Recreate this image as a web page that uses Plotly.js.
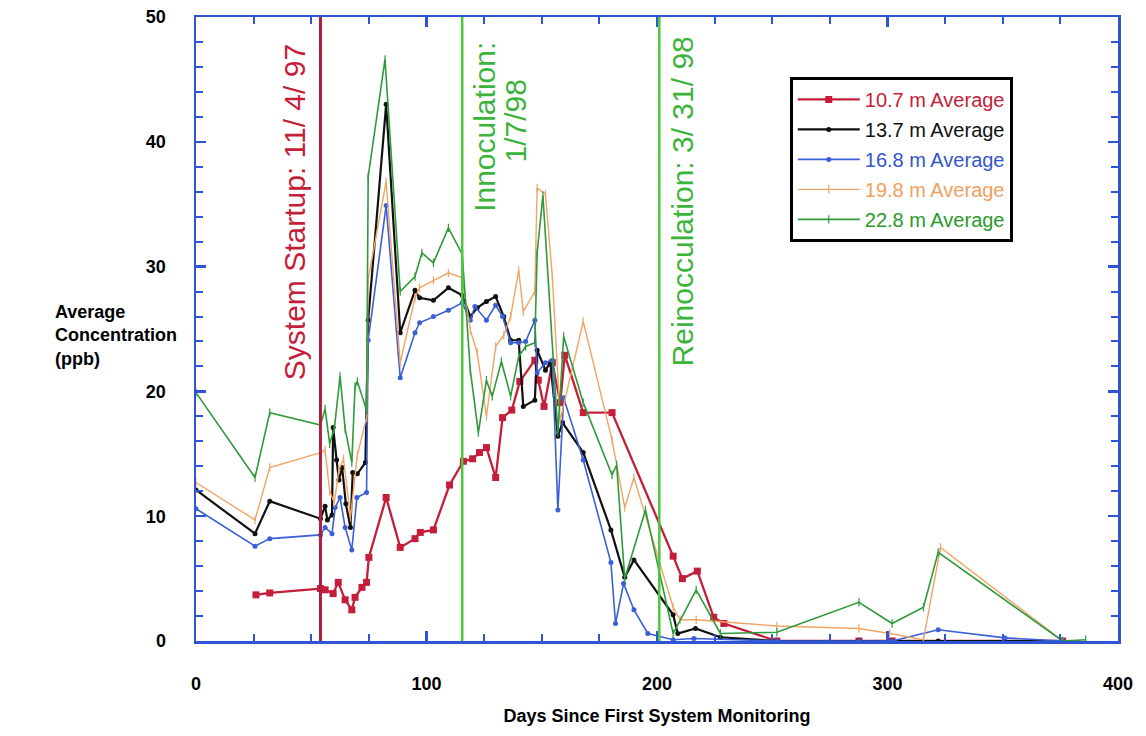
<!DOCTYPE html>
<html>
<head>
<meta charset="utf-8">
<script src="https://cdn.plot.ly/plotly-3.0.1.min.js"></script>
<style>html,body{margin:0;padding:0;background:#fff;}#chart{width:1146px;height:736px;}</style>
</head>
<body>
<div id="chart"></div>
<script>
// ---- Data ----
const seriesNames = ["10.7 m Average", "13.7 m Average", "16.8 m Average", "19.8 m Average", "22.8 m Average"];

const days107 = [26, 32, 54, 56, 59.5, 61.7, 64.7, 67.6, 69, 72, 74, 75, 82.5, 88.6, 95, 97.3, 103, 110, 116, 120, 123, 126, 130, 133, 137, 140.5, 147, 148.5, 151, 154.6, 158, 160, 168, 180.5, 207, 211, 217.5, 224.6, 229, 252, 287.6, 302, 376];
const conc107 = [3.7, 3.85, 4.2, 4.1, 3.8, 4.7, 3.3, 2.5, 3.5, 4.3, 4.7, 6.7, 11.5, 7.5, 8.2, 8.7, 8.9, 12.5, 14.4, 14.6, 15.1, 15.5, 13.1, 17.9, 18.5, 20.8, 22.5, 20.9, 18.8, 22.3, 19.1, 22.9, 18.3, 18.3, 6.8, 5.0, 5.6, 1.9, 1.4, 0, 0, 0, 0];

const days137 = [0, 25.6, 32, 54, 56, 57, 59, 59.5, 61, 62, 63.4, 65, 67, 68, 70, 73.5, 74.7, 82.5, 88.6, 95, 97, 103, 109.5, 115.5, 119, 122, 126, 130, 133.5, 136.5, 140, 142, 147, 148, 151.6, 153.7, 157, 159, 168, 180, 186, 190, 207, 209, 216.7, 227.5, 252, 287.6, 302, 322, 376];
const conc137 = [12.1, 8.6, 11.2, 9.8, 10.8, 9.7, 10.1, 17.1, 14.5, 12.9, 13.9, 11.0, 9.1, 13.5, 13.4, 14.3, 25.7, 43.0, 24.7, 28.1, 27.5, 27.3, 28.3, 27.7, 26.0, 26.7, 27.2, 27.6, 26.0, 24.1, 24.1, 18.8, 19.3, 23.3, 21.7, 22.3, 16.4, 17.5, 15.1, 8.9, 5.1, 6.5, 2.1, 0.6, 1.0, 0.3, 0, 0, 0, 0, 0];

const days168 = [0, 25.6, 32, 54, 56, 59, 60.4, 62.5, 64.7, 67.6, 69.8, 74, 74.7, 82.5, 88.6, 95, 97, 103, 109.5, 115.5, 119, 121, 126, 130, 133, 136.5, 140, 143, 147, 148, 151.6, 154.6, 157, 159.5, 168, 180, 182, 185.5, 190, 196, 207, 216, 252, 287.6, 302, 322, 351, 376];
const conc168 = [10.6, 7.6, 8.2, 8.5, 9.1, 8.6, 10.7, 11.5, 9.1, 7.3, 11.5, 11.9, 24.1, 34.9, 21.1, 24.7, 25.5, 26.0, 26.5, 27.1, 25.7, 26.8, 25.7, 26.9, 26.0, 23.9, 23.9, 24.0, 25.7, 21.5, 22.3, 22.5, 10.5, 19.5, 14.5, 6.3, 1.4, 4.6, 2.5, 0.6, 0.1, 0.2, 0, 0, 0, 0.9, 0.25, 0];

const days198 = [0, 25.6, 32, 54, 56, 58, 60, 62, 64, 67, 70, 74, 74.7, 82.5, 88.6, 95, 97, 103, 109.5, 115.5, 119, 122, 126, 130, 133.5, 136.5, 140, 142, 147, 148, 151.6, 154.6, 158, 168, 180.5, 186, 190, 207, 210, 217, 252, 287.6, 301, 315.6, 323, 376];
const conc198 = [12.7, 9.7, 13.9, 15.1, 15.3, 12.0, 11.1, 13.7, 14.6, 9.9, 14.9, 17.9, 29.0, 36.8, 22.3, 27.5, 28.3, 28.9, 29.5, 29.1, 24.9, 23.1, 18.0, 23.6, 24.5, 26.0, 29.7, 26.4, 28.0, 36.3, 35.8, 29.2, 17.7, 25.6, 16.1, 10.7, 13.1, 2.7, 1.7, 1.7, 1.2, 1.0, 0.6, 0.1, 7.5, 0];

const days228 = [0, 25.6, 32, 54, 56, 58, 60, 62.5, 64.7, 67.6, 69, 70, 74, 74.7, 82, 88.6, 95, 98, 103, 109.5, 115.5, 119, 122.5, 126, 128.5, 132.5, 136.5, 140, 143, 147, 148, 150.5, 157, 159.5, 168, 180.5, 182.5, 186, 195, 207, 217, 227.5, 252, 287.6, 302, 315.6, 322, 376, 386];
const conc228 = [19.9, 13.1, 18.3, 17.3, 18.6, 15.8, 17.0, 21.2, 17.0, 14.3, 20.4, 20.8, 18.5, 37.2, 46.6, 28.0, 29.2, 31.1, 30.3, 33.1, 31.0, 21.7, 16.7, 20.9, 19.6, 22.4, 19.6, 22.8, 23.6, 23.9, 31.1, 35.7, 16.7, 24.4, 19.1, 13.3, 14.1, 5.0, 10.5, 0.6, 4.1, 0.6, 0.7, 3.1, 1.4, 2.7, 7.1, 0, 0.1];

// event markers
const eventDays = [54, 115.5, 201];
const eventLabels = ["System Startup: 11/ 4/ 97", "Innoculation:", "1/7/98", "Reinocculation: 3/ 31/ 98"];

// ---- Styles ----
const lineColors = ["#c41e3a", "#111111", "#3a5fd6", "#f2a464", "#2e9a3a"];
const textColors = ["#c41e3a", "#111111", "#3355cc", "#f0a060", "#2a9a2a"];
const FONT = "Liberation Sans, Arial, Helvetica, sans-serif";
const AXBLUE = "#2f55d4";

function mk(i, xs, ys, marker, lw) {
  return {
    type: "scatter", mode: "lines+markers",
    x: xs, y: ys,
    name: '<span style="color:' + textColors[i] + '">' + seriesNames[i] + '</span>',
    legendgroup: "g" + i,
    line: {color: lineColors[i], width: lw},
    marker: marker,
    hoverinfo: "x+y"
  };
}

const traces = [
  mk(0, days107, conc107, {symbol: "square", size: 7, color: lineColors[0]}, 2.3),
  mk(1, days137, conc137, {symbol: "circle", size: 5, color: lineColors[1]}, 2.2),
  mk(2, days168, conc168, {symbol: "circle", size: 5, color: lineColors[2]}, 1.6),
  mk(3, days198, conc198, {symbol: "line-ns", size: 6, color: lineColors[3], line: {color: lineColors[3], width: 1.2}}, 1.4),
  mk(4, days228, conc228, {symbol: "line-ns", size: 6, color: lineColors[4], line: {color: lineColors[4], width: 1.2}}, 1.6)
];

const shapes = [
  {type: "line", xref: "x", yref: "paper", x0: eventDays[0], x1: eventDays[0], y0: 0, y1: 1, line: {color: "#b01e3e", width: 3}},
  {type: "line", xref: "x", yref: "paper", x0: eventDays[1], x1: eventDays[1], y0: 0, y1: 1, line: {color: "#4cc83c", width: 2.5}},
  {type: "line", xref: "x", yref: "paper", x0: eventDays[2], x1: eventDays[2], y0: 0, y1: 1, line: {color: "#4cc83c", width: 2.5}}
];

const annFont = (c) => ({family: FONT, size: 30, color: c});
const annotations = [
  {xref: "x", yref: "paper", x: 42.6, y: 0.6875, text: eventLabels[0], textangle: -90, showarrow: false, xanchor: "center", yanchor: "middle", font: annFont("#c41e3a")},
  {xref: "x", yref: "paper", x: 125.1, y: 0.8245, text: eventLabels[1], textangle: -90, showarrow: false, xanchor: "center", yanchor: "middle", font: annFont("#3cb43c")},
  {xref: "x", yref: "paper", x: 138.5, y: 0.833, text: eventLabels[2], textangle: -90, showarrow: false, xanchor: "center", yanchor: "middle", font: annFont("#3cb43c")},
  {xref: "x", yref: "paper", x: 211, y: 0.705, text: eventLabels[3], textangle: -90, showarrow: false, xanchor: "center", yanchor: "middle", font: annFont("#3cb43c")},
  {xref: "paper", yref: "paper", x: -0.155, y: 0.489, xanchor: "left", yanchor: "middle", align: "left", showarrow: false,
   text: "Average<br>Concentration<br>(ppb)", font: {family: FONT, size: 18, color: "#000", weight: "bold"}}
];

const tickFont = {family: FONT, size: 18, color: "#000", weight: "bold"};

const layout = {
  width: 1146, height: 736,
  margin: {l: 196, r: 28, t: 17, b: 95},
  paper_bgcolor: "#fff", plot_bgcolor: "#fff",
  showlegend: true,
  legend: {
    x: 0.644, y: 0.904, xanchor: "left", yanchor: "top",
    bgcolor: "#fff", bordercolor: "#000", borderwidth: 3,
    font: {family: FONT, size: 20, color: "#000"},
    itemwidth: 62,
    tracegroupgap: 1
  },
  xaxis: {
    range: [0, 400], dtick: 100, tick0: 0,
    showgrid: false, zeroline: false,
    showline: true, linecolor: AXBLUE, linewidth: 2.5, mirror: "ticks",
    ticks: "inside", ticklen: 10, tickwidth: 2.5, tickcolor: AXBLUE,
    minor: {dtick: 25, ticks: "inside", ticklen: 7, tickwidth: 2, tickcolor: AXBLUE, showgrid: false},
    tickfont: tickFont, ticklabelstandoff: 25,
    title: {text: "Days Since First System Monitoring", font: {family: FONT, size: 18, color: "#000", weight: "bold"}, standoff: 17}
  },
  yaxis: {
    range: [0, 50], dtick: 10, tick0: 0,
    showgrid: false, zeroline: false,
    showline: true, linecolor: AXBLUE, linewidth: 2.5, mirror: "ticks",
    ticks: "inside", ticklen: 10, tickwidth: 2.5, tickcolor: AXBLUE,
    minor: {dtick: 2, ticks: "inside", ticklen: 7, tickwidth: 2, tickcolor: AXBLUE, showgrid: false},
    tickfont: tickFont, ticklabelstandoff: 24
  },
  shapes: shapes,
  annotations: annotations
};

Plotly.newPlot("chart", traces, layout, {displayModeBar: false, staticPlot: true});
</script>
</body>
</html>
